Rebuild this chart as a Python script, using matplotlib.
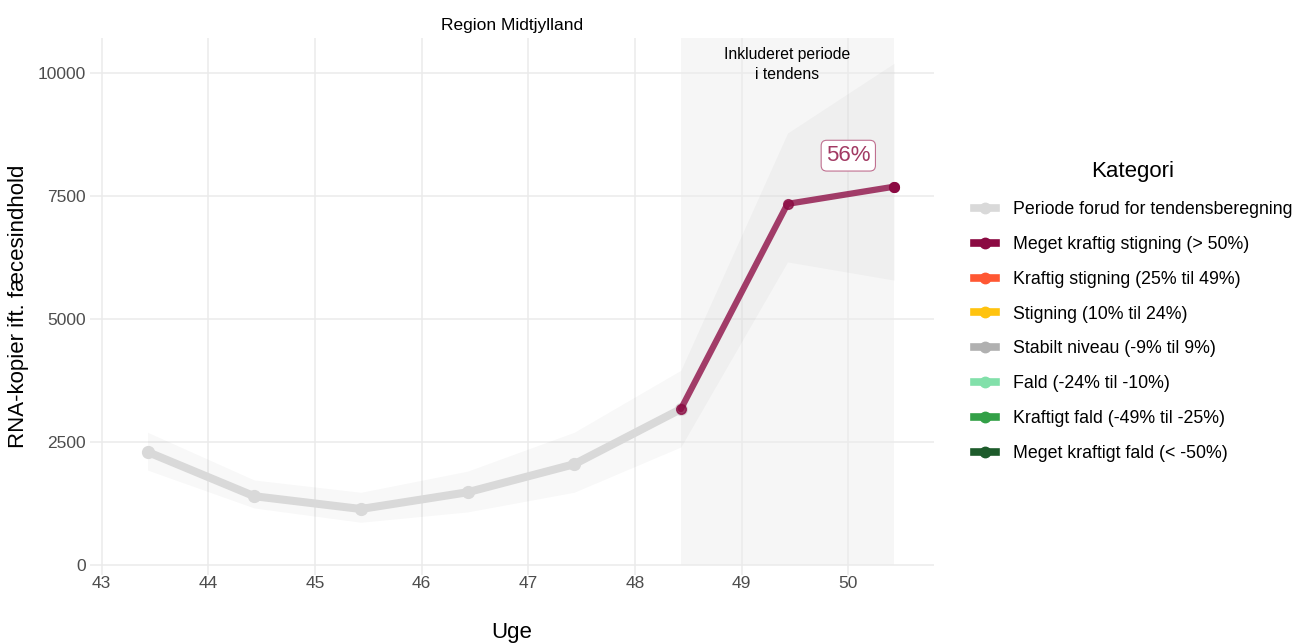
import matplotlib.pyplot as plt
from matplotlib.lines import Line2D

plt.rcParams['font.family'] = ['Liberation Sans', 'DejaVu Sans']

# Ugenumre (midt i ugen) og målte værdier
uger = [43.43, 44.43, 45.43, 46.43, 47.43, 48.43, 49.43, 50.43]
niveau = [2300, 1400, 1140, 1480, 2050, 3170, 7340, 7690]
nedre = [1930, 1160, 870, 1080, 1480, 2400, 6160, 5790]
oevre = [2700, 1730, 1480, 1910, 2700, 3960, 8780, 10200]

tendens_start = 5  # index hvor tendensperioden starter
tendens_pct = 56

kategorier = [
    'Periode forud for tendensberegning',
    'Meget kraftig stigning (> 50%)',
    'Kraftig stigning (25% til 49%)',
    'Stigning (10% til 24%)',
    'Stabilt niveau (-9% til 9%)',
    'Fald (-24% til -10%)',
    'Kraftigt fald (-49% til -25%)',
    'Meget kraftigt fald (< -50%)',
]
farver = ['#D9D9D9', '#8B0A42', '#FF5733', '#FFC30F', '#B0B0B0',
          '#82E0AA', '#33A047', '#1D5B2B']

fig = plt.figure(figsize=(12.96, 6.44), dpi=100)
ax = fig.add_axes([0.0694, 0.107, 0.651, 0.834])

# Tendensperiode
ax.fill_between([uger[tendens_start], uger[-1]], 0, 10711,
                color='#F6F6F6', zorder=0.5, linewidth=0)
ax.text((uger[tendens_start] + uger[-1]) / 2, 10530,
        'Inkluderet periode\ni tendens', ha='center', va='top',
        fontsize=11.3, color='black', linespacing=1.45)

# Usikkerhedsbånd
ax.fill_between(uger, nedre, oevre, color='black', alpha=0.026,
                linewidth=0, zorder=1)

# Periode forud for tendens
ax.plot(uger[:tendens_start + 1], niveau[:tendens_start + 1],
        color=farver[0], lw=5.8, marker='o', ms=8.5, zorder=2,
        solid_capstyle='round')

# Tendens
ax.plot(uger[tendens_start:], niveau[tendens_start:], color=farver[1],
        alpha=0.78, lw=4.5, zorder=3, solid_capstyle='round')
ax.plot(uger[tendens_start:], niveau[tendens_start:], color=farver[1],
        lw=0, marker='o', ms=7, alpha=0.78, zorder=3)
ax.plot(uger[-1], niveau[-1], color=farver[1], marker='o', ms=7, zorder=4)

ax.text(50.0, 8320, f'{tendens_pct}%', ha='center', va='center',
        fontsize=16, color='#A23A63',
        bbox=dict(boxstyle='round,pad=0.22,rounding_size=0.25',
                  fc='white', ec='#C07090', lw=0.8))

ax.set_xlim(42.89, 50.8)
ax.set_ylim(-203, 10711)
ax.set_xticks(range(43, 51))
ax.set_yticks([0, 2500, 5000, 7500, 10000])
ax.grid(True, color='#EBEBEB', lw=1.1)
ax.set_axisbelow(True)
for s in ax.spines.values():
    s.set_visible(False)
ax.tick_params(length=0, labelsize=12.5, labelcolor='#4D4D4D')
ax.tick_params(axis='x', pad=1)
ax.tick_params(axis='y', pad=3)

ax.set_xlabel('Uge', fontsize=16, labelpad=3)
ax.xaxis.set_label_coords(0.5, -0.088)
ax.set_ylabel('RNA-kopier ift. fæcesindhold', fontsize=16, labelpad=6)
ax.set_title('Region Midtjylland', fontsize=12.5, pad=6)

handles = [Line2D([0], [0], color=c, lw=5.5, marker='o', ms=7.5) for c in farver]
leg = fig.legend(handles, kategorier, loc='upper left',
                 bbox_to_anchor=(0.739, 0.775), frameon=False,
                 title='Kategori', title_fontsize=16, fontsize=12.8,
                 handlelength=1.25, labelspacing=1.0, handletextpad=0.95)
leg._legend_box.align = 'center'
leg._legend_box.sep = 14

fig.savefig('out.png', dpi=100)
